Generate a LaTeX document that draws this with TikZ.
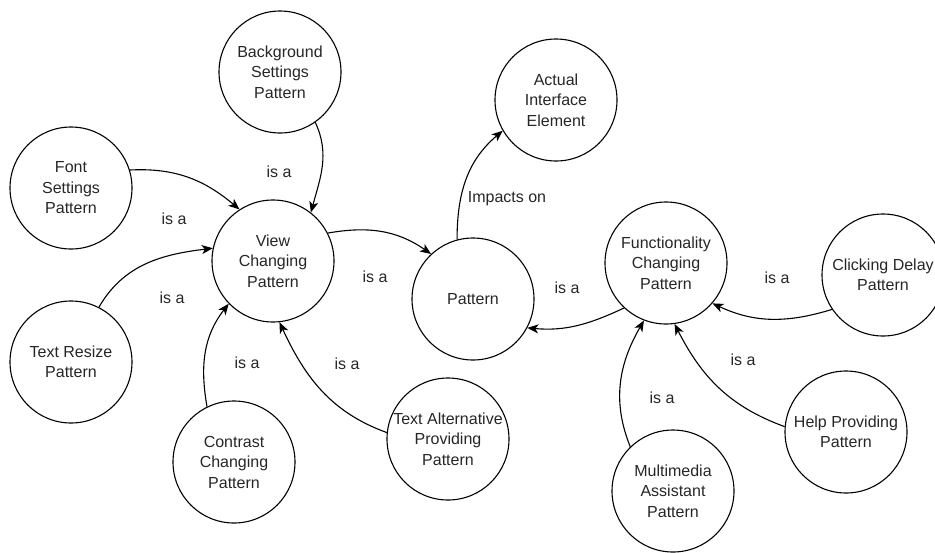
\documentclass[tikz,border=0pt]{standalone}
\usepackage{fontspec}
\setmainfont{Liberation Sans}
\usetikzlibrary{arrows.meta}
\begin{document}
\begin{tikzpicture}[x=1pt,y=-1pt,
  pat/.style={circle,draw,line width=1.1pt,minimum size=122pt,inner sep=0pt,align=center,
    font=\fontsize{16}{20.5}\selectfont,text=black!85},
  lbl/.style={font=\fontsize{16}{20}\selectfont,inner sep=0pt,text=black!85},
  conn/.style={line width=1.1pt,-{Stealth[length=11pt,width=9pt,inset=3pt]}}]
\useasboundingbox (0,0) rectangle (935,552);
% pattern nodes
\node[pat] (bg)   at (280,72)  {Background\\Settings\\Pattern};
\node[pat] (font) at (71,188)  {Font\\Settings\\Pattern};
\node[pat] (view) at (273,261) {View\\Changing\\Pattern};
\node[pat] (tr)   at (71,362)  {Text Resize\\Pattern};
\node[pat] (con)  at (234,462) {Contrast\\Changing\\Pattern};
\node[pat] (talt) at (448,439) {Text Alternative\\Providing\\Pattern};
\node[pat] (pat)  at (473,299) {Pattern};
\node[pat] (act)  at (556,100) {Actual\\Interface\\Element};
\node[pat] (func) at (666,263) {Functionality\\Changing\\Pattern};
\node[pat] (click) at (883,275) {Clicking Delay\\Pattern};
\node[pat] (mm)   at (673,491) {Multimedia\\Assistant\\Pattern};
\node[pat] (help) at (846,432) {Help Providing\\Pattern};
% connectors
\draw[conn] (font.17)  to[out=3,in=140]   (view.123);
\draw[conn] (bg.-55)   to[out=-65,in=75]  (view.52);
\draw[conn] (view.27)  to[out=10,in=145]  (pat.133);
\draw[conn] (tr.63)    to[out=60,in=187]  (view.168);
\draw[conn] (con.116)  to[out=100,in=232] (view.224);
\draw[conn] (talt.174) to[out=160,in=-65] (view.-84);
\draw[conn] (pat.105)  to[out=90,in=220]  (act.210);
\draw[conn] (func.227) to[out=205,in=-5]  (pat.-28);
\draw[conn] (click.214) to[out=197,in=-25] (func.-41);
\draw[conn] (mm.134)   to[out=112,in=240] (func.249);
\draw[conn] (help.175) to[out=160,in=-63] (func.-82);
% labels
\node[lbl] (l1)  at (279,172) {is a};
\node[lbl] (l2)  at (174,219) {is a};
\node[lbl] (l3)  at (375,277) {is a};
\node[lbl] (l4)  at (172,298) {is a};
\node[lbl] (l5)  at (247,363) {is a};
\node[lbl] (l6)  at (347,364) {is a};
\node[lbl] (l7)  at (507,199) {Impacts on};
\node[lbl] (l8)  at (567,288) {is a};
\node[lbl] (l9)  at (777,278) {is a};
\node[lbl] (l10) at (743,360) {is a};
\node[lbl] (l11) at (662,398) {is a};
\end{tikzpicture}
\end{document}
